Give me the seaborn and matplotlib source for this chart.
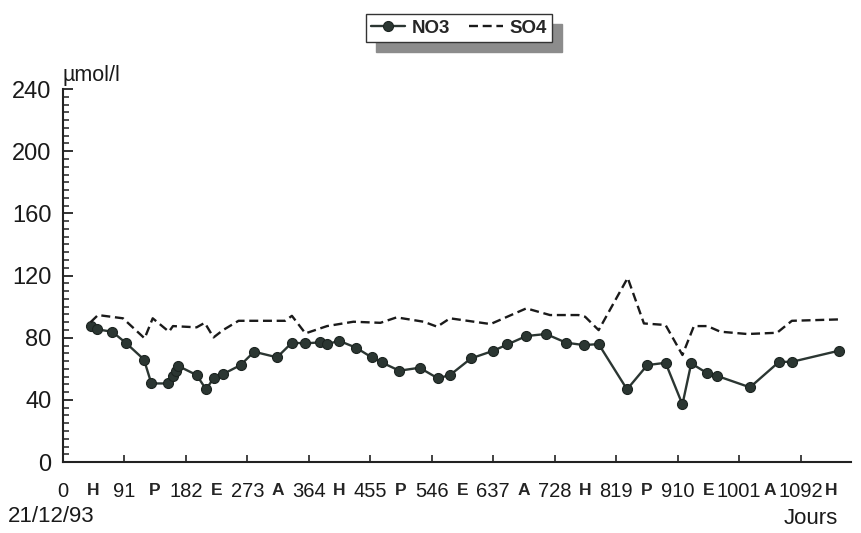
import matplotlib
matplotlib.use("Agg")
import matplotlib.pyplot as plt
import seaborn as sns
import pandas as pd
import numpy as np
from matplotlib.ticker import MultipleLocator, FixedLocator

# ---- data ----
no3_days = [41, 50, 73, 94, 120, 131, 156, 163, 168, 171, 198, 212, 223, 237, 263, 283,
            317, 339, 359, 380, 391, 409, 434, 457, 472, 498, 528, 555, 573,
            604, 637, 658, 686, 715, 745, 771, 793, 835, 865, 892, 917, 930, 954, 968,
            1017, 1060, 1079, 1148]
no3_vals = [87.5, 85.4, 83.9, 76.4, 66.0, 50.6, 50.6, 55.3, 58.5, 61.8, 56.0, 46.8, 53.9, 56.6, 62.4, 71.0,
            67.4, 76.8, 76.4, 77.0, 75.9, 78.0, 73.6, 67.4, 64.1, 58.8, 60.7, 53.9, 56.0,
            66.7, 71.6, 75.7, 81.1, 82.4, 76.8, 75.3, 75.9, 46.8, 62.4, 63.9, 37.1, 63.5, 57.1, 55.5,
            48.1, 64.5, 64.5, 71.6]

so4_days = [41, 52, 89, 121, 133, 157, 163, 198, 210, 223, 237, 260, 329, 339, 359, 391,
            430, 470, 494, 534, 554, 573, 633, 686, 721, 763, 773, 793, 836, 860, 892,
            917, 934, 954, 973, 1013, 1057, 1079, 1149]
so4_vals = [90.0, 94.6, 92.5, 79.6, 92.5, 83.9, 87.5, 86.7, 89.6, 80.2, 84.9, 90.9, 90.9, 94.1, 82.8, 87.5,
            90.3, 89.6, 93.1, 90.3, 87.1, 92.5, 88.8, 98.9, 94.6, 94.6, 93.5, 84.9, 118.5, 89.2, 88.2,
            68.9, 87.5, 87.5, 83.9, 82.4, 83.2, 90.9, 91.8]

num_ticks = [0, 91, 182, 273, 364, 455, 546, 637, 728, 819, 910, 1001, 1092]
num_labels = ["0", "91", "182", "273", "364", "455", "546", "637", "728", "819", "910", "1001", "1092"]
season_labels = ["H", "P", "E", "A", "H", "P", "E", "A", "H", "P", "E", "A", "H"]
y_ticks = [0, 40, 80, 120, 160, 200, 240]

# ---- plot ----
sns.set_theme(style="white")
plt.rcParams['font.family'] = ['Liberation Sans', 'DejaVu Sans']

fig = plt.figure(figsize=(8.61, 5.33), dpi=100)
ax = fig.add_axes([0.073, 0.133, 0.915, 0.700])

line_col = "#2b3632"
df_no3 = pd.DataFrame({"day": no3_days, "val": no3_vals})
df_so4 = pd.DataFrame({"day": so4_days, "val": so4_vals})

sns.lineplot(data=df_no3, x="day", y="val", ax=ax, color=line_col, lw=1.7,
             marker="o", markersize=7.2, markerfacecolor=line_col,
             markeredgecolor="#1c2421", markeredgewidth=0.8, label="NO3")
sns.lineplot(data=df_so4, x="day", y="val", ax=ax, color="#1a1a1a", lw=1.7,
             label="SO4", dashes=False)
ax.lines[-1].set_dashes([3.8, 2.0])

ax.set_xlim(0, 1166)
ax.set_ylim(0, 240)
ax.set_xlabel("")
ax.set_ylabel("")

for s in ["top", "right"]:
    ax.spines[s].set_visible(False)
for s in ["left", "bottom"]:
    ax.spines[s].set_color("#222222")
    ax.spines[s].set_linewidth(1.5)

ax.yaxis.set_major_locator(FixedLocator(y_ticks))
ax.yaxis.set_minor_locator(MultipleLocator(5))
ax.set_yticklabels([str(v) for v in y_ticks])
ax.tick_params(axis="y", which="major", direction="in", length=7, width=1.3,
               color="#222222", labelsize=17, pad=8, left=True)
ax.tick_params(axis="y", which="minor", direction="in", length=4, width=1.1,
               color="#222222", left=True)

season_pos = [t + 45.5 for t in num_ticks]
ax.xaxis.set_major_locator(FixedLocator(num_ticks))
ax.set_xticklabels(num_labels)
ax.xaxis.set_minor_locator(FixedLocator(season_pos))
ax.xaxis.set_minor_formatter(matplotlib.ticker.FixedFormatter(season_labels))
ax.tick_params(axis="x", which="major", direction="in", length=5, width=1.2,
               color="#222222", labelsize=14.5, pad=14, bottom=True)
ax.tick_params(axis="x", which="minor", direction="in", length=0,
               labelsize=12.5, pad=15, bottom=True)
for lab in ax.xaxis.get_minorticklabels():
    lab.set_fontweight("bold")
# first major tick ("0") has no visible tick on the spine
ax.xaxis.get_major_ticks()[0].tick1line.set_visible(False)

for lab in ax.get_xticklabels() + ax.get_yticklabels():
    lab.set_color("#1a1a1a")

fig.text(62 / 861, 1 - 76 / 533, "µmol/l", fontsize=15.5, ha="left", va="center", color="#1a1a1a")
fig.text(8 / 861, 1 - 517 / 533, "21/12/93", fontsize=16, ha="left", va="center", color="#1a1a1a")
fig.text(838 / 861, 1 - 519 / 533, "Jours", fontsize=16, ha="right", va="center", color="#1a1a1a")

ax.get_legend().remove()
h, l = ax.get_legend_handles_labels()
leg = fig.legend(h, l, loc="center", bbox_to_anchor=(459 / 861, 1 - 28 / 533), ncol=2,
                 frameon=True, fancybox=False,
                 shadow={"ox": 7, "oy": -7, "color": "#8c8c8c", "alpha": 1.0},
                 edgecolor="#333333", handlelength=1.8, handletextpad=0.35,
                 columnspacing=1.0, borderpad=0.3,
                 prop={"weight": "bold", "size": 13.5})
leg.get_frame().set_linewidth(1.0)

fig.savefig("out.png", dpi=100)
